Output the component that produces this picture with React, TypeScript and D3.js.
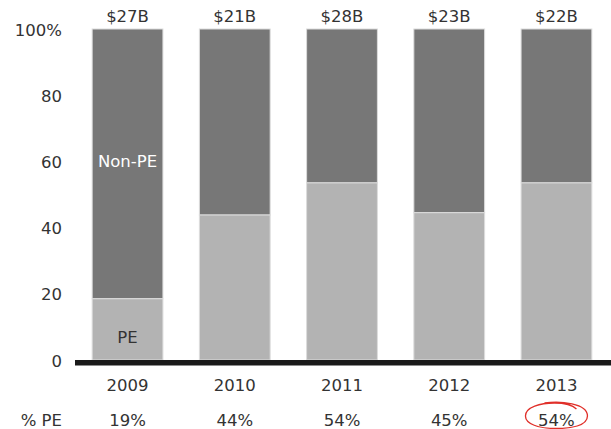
import React from "react";
import * as d3 from "d3";

const years = ["2009", "2010", "2011", "2012", "2013"];
const pePct = [18.5, 43.8, 53.5, 44.5, 53.5];
const totals = ["$27B", "$21B", "$28B", "$23B", "$22B"];
const peLabels = ["19%", "44%", "54%", "45%", "54%"];
const yTicks = [0, 20, 40, 60, 80, 100];

const W = 611;
const H = 429;
const FONT = "'DejaVu Sans', sans-serif";
const FS = 16.5;

export default function App() {
  const x = d3.scaleBand<string>().domain(years).range([75, 609]).paddingInner(0.34).paddingOuter(0.16);
  const y = d3.scaleLinear().domain([0, 100]).range([360, 29]);
  const bw = x.bandwidth();
  const last = years[years.length - 1];
  const cx = (x(last) as number) + bw / 2;

  return (
    <svg
      width={W}
      height={H}
      style={{ position: "absolute", left: 0, top: 0, display: "block" }}
      fontFamily={FONT}
    >
      <rect width={W} height={H} fill="#fff" />
      {years.map((yr, i) => {
        const x0 = x(yr) as number;
        return (
          <g key={yr}>
            <rect x={x0} y={y(100)} width={bw} height={y(pePct[i]) - y(100)} fill="#777777" stroke="#dcdcdc" strokeWidth={1} />
            <rect x={x0} y={y(pePct[i])} width={bw} height={y(0) - y(pePct[i])} fill="#b3b3b3" stroke="#dcdcdc" strokeWidth={1} />
            <text x={x0 + bw / 2} y={y(100) - 7} textAnchor="middle" fontSize={FS} fill="#333">{totals[i]}</text>
            <text x={x0 + bw / 2} y={391} textAnchor="middle" fontSize={FS} fill="#333">{yr}</text>
            <text x={x0 + bw / 2} y={426} textAnchor="middle" fontSize={FS} fill="#333">{peLabels[i]}</text>
          </g>
        );
      })}
      {yTicks.map((t) => (
        <text key={t} x={62} y={y(t) + 6.5} textAnchor="end" fontSize={FS} fill="#333">
          {t === 100 ? "100%" : t}
        </text>
      ))}
      <text x={62} y={426} textAnchor="end" fontSize={FS} fill="#333">% PE</text>
      <text x={(x(years[0]) as number) + bw / 2} y={y(60) + 6} textAnchor="middle" fontSize={FS} fill="#fff">Non-PE</text>
      <text x={(x(years[0]) as number) + bw / 2} y={y(7) + 6} textAnchor="middle" fontSize={FS} fill="#333">PE</text>
      <rect x={75} y={y(0)} width={W - 75} height={5.5} fill="#1a1a1a" />
      <path
        d={`M ${cx - 12} ${403} C ${cx + 4} ${401}, ${cx + 31} ${403}, ${cx + 31} ${416} C ${cx + 31} ${426}, ${cx + 14} ${428.5}, ${cx} ${428.5} C ${cx - 18} ${428.5}, ${cx - 31} ${424}, ${cx - 31} ${416} C ${cx - 31} ${407}, ${cx - 16} ${403}, ${cx - 2} ${403} C ${cx + 8} ${403}, ${cx + 16} ${405}, ${cx + 20} ${409}`}
        fill="none"
        stroke="#e0302a"
        strokeWidth={1.3}
      />
    </svg>
  );
}
